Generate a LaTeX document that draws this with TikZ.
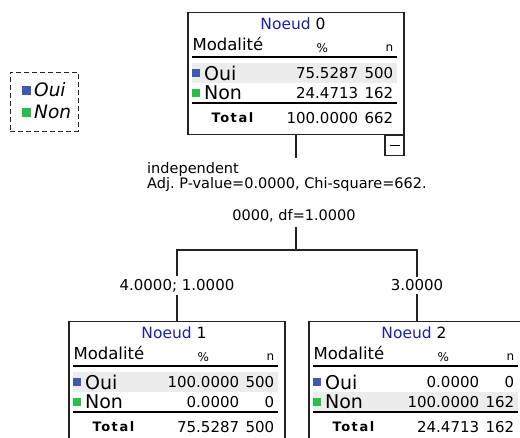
\documentclass[tikz,border=0pt]{standalone}
\usepackage{fontspec}
\setmainfont{DejaVu Sans}[ItalicFont={DejaVu Sans Oblique}, BoldFont={DejaVu Sans Bold}]
\usepackage{xcolor}
\usepackage{tikz}
\usetikzlibrary{positioning, calc}
\definecolor{bleunoeud}{RGB}{25,35,160}
\definecolor{bleuoui}{RGB}{60,90,175}
\definecolor{vertnon}{RGB}{40,190,75}
\definecolor{grisligne}{RGB}{236,236,236}
\definecolor{trait}{RGB}{35,35,35}
\frenchspacing
\newcommand{\px}[1]{\fontsize{#1}{#1}\selectfont}
\tikzstyle{boite} = [rectangle, draw=trait, line width=1.3pt, minimum width=216pt, minimum height=122pt, inner sep=0pt, anchor=north]
\tikzstyle{titre} = [font=\px{15.5}, inner sep=0pt]
\tikzstyle{entete} = [font=\px{16.5}, inner sep=0pt, anchor=west]
\tikzstyle{petit} = [font=\px{12}, inner sep=0pt]
\tikzstyle{modal} = [font=\px{19}, inner sep=0pt, anchor=west]
\tikzstyle{chiffre} = [font=\px{15}, inner sep=0pt, anchor=east]
\tikzstyle{total} = [font=\px{13}\bfseries\addfontfeature{LetterSpace=12}, inner sep=0pt, anchor=west]
\tikzstyle{sep} = [line width=2pt, draw=black]
\tikzstyle{lien} = [line width=1.5pt, draw=trait]
\tikzstyle{etiq} = [font=\fontsize{14.5}{13.5}\selectfont, inner sep=0pt]
\tikzstyle{branche} = [font=\px{15}, fill=white, inner sep=3pt]
\tikzstyle{legtexte} = [font=\px{18.5}\itshape, inner sep=0pt, anchor=west]
% contenu d'un noeud : numero, valeurs, decalage de la ligne grisee
\newcommand{\noeud}[8]{%
  \fill[grisligne] ($(box#1.north west)+(5,#8)$) rectangle ($(box#1.north west)+(210,#8+20)$);
  \node[titre] (t#1) at ($(box#1.north)+(-3,12)$) {\textcolor{bleunoeud}{Noeud} #1};
  \node[entete] (m#1) at ($(box#1.north west)+(5,32)$) {Modalité};
  \node[petit] (p#1) at ($(box#1.north west)+(135,36)$) {\%};
  \node[petit, anchor=east] (n#1) at ($(box#1.north west)+(206,36)$) {n};
  \draw[sep] ($(box#1.north west)+(5,45)$) -- ($(box#1.north west)+(210,45)$);
  \fill[bleuoui] ($(box#1.north west)+(5,57)$) rectangle +(8,8);
  \node[modal] (o#1) at ($(box#1.north west)+(16.5,61)$) {Oui};
  \node[chiffre] (op#1) at ($(box#1.north west)+(171,61)$) {#2};
  \node[chiffre] (on#1) at ($(box#1.north west)+(206,61)$) {#3};
  \fill[vertnon] ($(box#1.north west)+(5,77)$) rectangle +(8,8);
  \node[modal] (x#1) at ($(box#1.north west)+(16.5,81)$) {Non};
  \node[chiffre] (xp#1) at ($(box#1.north west)+(171,81)$) {#4};
  \node[chiffre] (xn#1) at ($(box#1.north west)+(206,81)$) {#5};
  \draw[sep] ($(box#1.north west)+(5,91)$) -- ($(box#1.north west)+(210,91)$);
  \node[total] (tt#1) at ($(box#1.north west)+(24,106)$) {Total};
  \node[chiffre] (tp#1) at ($(box#1.north west)+(171,106)$) {#6};
  \node[chiffre] (tn#1) at ($(box#1.north west)+(206,106)$) {#7};
}

\begin{document}
\begin{tikzpicture}[x=1pt, y=-1pt]
    \useasboundingbox (0,0) rectangle (520,438);

    % legende
    \node (legende) [draw=trait, thick, dash pattern=on 5pt off 3pt, minimum width=68pt, minimum height=59pt, anchor=north west] at (10,72) {};
    \fill[bleuoui] (22,86) rectangle (31,95);
    \node (leg1) [legtexte] at (34,90) {Oui};
    \fill[vertnon] (22,108) rectangle (31,117);
    \node (leg2) [legtexte] at (34,112) {Non};

    % noeuds
    \node (box0) [boite] at (296,12) {};
    \node (box1) [boite] at (177,321) {};
    \node (box2) [boite] at (417,321) {};
    \noeud{0}{75.5287}{500}{24.4713}{162}{100.0000}{662}{51}
    \noeud{1}{100.0000}{500}{0.0000}{0}{75.5287}{500}{51}
    \noeud{2}{0.0000}{0}{100.0000}{162}{24.4713}{162}{71}

    \node (pli) [draw=trait, line width=1.2pt, minimum width=19pt, minimum height=20pt, inner sep=0pt, anchor=north east] at (box0.south east) {};
    \draw[line width=1.2pt] ($(pli.center)+(-5,0)$) -- ($(pli.center)+(5,0)$);

    % critere de division
    \node (crit) [etiq, align=left, anchor=north west] at (147,162) {independent\\Adj. P-value=0.0000, Chi-square=662.};
    \node (crit2) [etiq] at (294,216) {0000, df=1.0000};
    \coordinate (bus) at (296,250);

    \draw [lien] (box0.south) -- ($(box0.south |- crit.north)+(0,-4)$);
    \draw [lien] (box0.south |- crit2.south) ++(0,4) -- (bus);
    \draw [lien] (bus) -| node[branche, pos=0.75] (br1) {4.0000; 1.0000} (box1.north);
    \draw [lien] (bus) -| node[branche, pos=0.75] (br2) {3.0000} (box2.north);
\end{tikzpicture}
\end{document}
